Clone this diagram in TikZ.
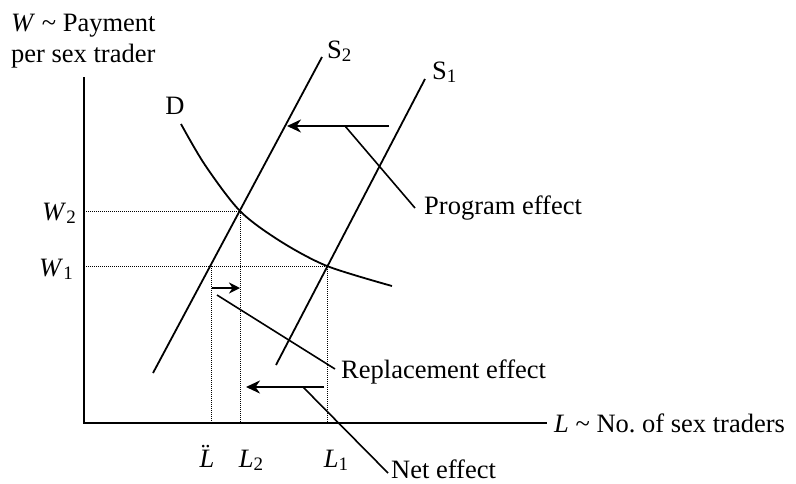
\documentclass[tikz,border=0pt]{standalone}
\usepackage{fontspec}
\setmainfont{Liberation Serif}
\usetikzlibrary{arrows.meta}
\newcommand{\sbs}[1]{\raisebox{-0.3ex}{\fontsize{19}{19}\selectfont #1}}

\begin{document}
\begin{tikzpicture}[x=1pt,y=-1pt,
    every node/.style={font=\fontsize{26.5}{31}\selectfont, inner sep=0pt},
    curve/.style={line width=1.8pt},
    guide/.style={line width=1pt, dash pattern=on 1pt off 1pt},
    effarrow/.style={line width=2.6pt, -{Stealth[length=14pt,width=13pt,inset=4.5pt]}},
    leader/.style={line width=1.6pt}]
    \useasboundingbox (0,0) rectangle (796,483);

    % Axes
    \coordinate (O) at (84,423);
    \draw[line width=2.2pt] (84,77) -- (O) -- (547,423);
    \node[anchor=base west] (ylab) at (11,31) {\textit{W} \textasciitilde{} Payment};
    \node[anchor=base west] (ylabb) at (11,62) {per sex trader};
    \node[anchor=west] (xlab) at (554,423) {\textit{L} \textasciitilde{} No.\ of sex traders};

    % Demand
    \draw[curve] plot[smooth] coordinates {(181,124) (205,165) (240,211) (280,241) (327,266) (392,286)};
    \node[anchor=base] (dlab) at (175,114) {D};

    % Supply before and after
    \draw[curve] (276,365) -- (425,79);
    \node[anchor=base west] (sone) at (432,79) {S\sbs{1}};
    \draw[curve] (153,373) -- (322,57);
    \node[anchor=base west] (stwo) at (327,58) {S\sbs{2}};

    % Equilibria
    \draw[guide] (84,211) -- (240,211) -- (240,423);
    \draw[guide] (84,266) -- (327,266) -- (327,423);
    \draw[guide] (211,266) -- (211,423);
    \node[anchor=base east] (wtwo) at (76,220) {\textit{W}\sbs{2}};
    \node[anchor=base east] (wone) at (73,276) {\textit{W}\sbs{1}};
    \node[anchor=base] (lthree) at (212,467) {\textit{\"L}};
    \node[anchor=base] (ltwo) at (251,467) {\textit{L}\sbs{2}};
    \node[anchor=base] (lone) at (336,467) {\textit{L}\sbs{1}};

    % Effects
    \coordinate (pa) at (389,126);
    \coordinate (pb) at (287,126);
    \coordinate (pm) at (345,126);
    \draw[effarrow] (pa) -- (pb);
    \node[anchor=west] (prog) at (424,208) {Program effect};
    \draw[leader] (pm) -- ([xshift=-9pt]prog.west);

    \coordinate (ra) at (212,288);
    \coordinate (rb) at (240,288);
    \coordinate (rm) at (217,295);
    \draw[effarrow, line width=2.2pt, -{Stealth[length=11pt,width=11pt,inset=3.5pt]}] (ra) -- (rb);
    \node[anchor=west] (repl) at (341,372) {Replacement effect};
    \draw[leader] (rm) -- ([xshift=-6pt,yshift=3pt]repl.west);

    \coordinate (na) at (324,387);
    \coordinate (nb) at (246,387);
    \coordinate (nm) at (303,387);
    \draw[effarrow] (na) -- (nb);
    \node[anchor=west] (net) at (391,469) {Net effect};
    \draw[leader] (nm) -- ([xshift=-3pt,yshift=-4pt]net.west);
\end{tikzpicture}
\end{document}
